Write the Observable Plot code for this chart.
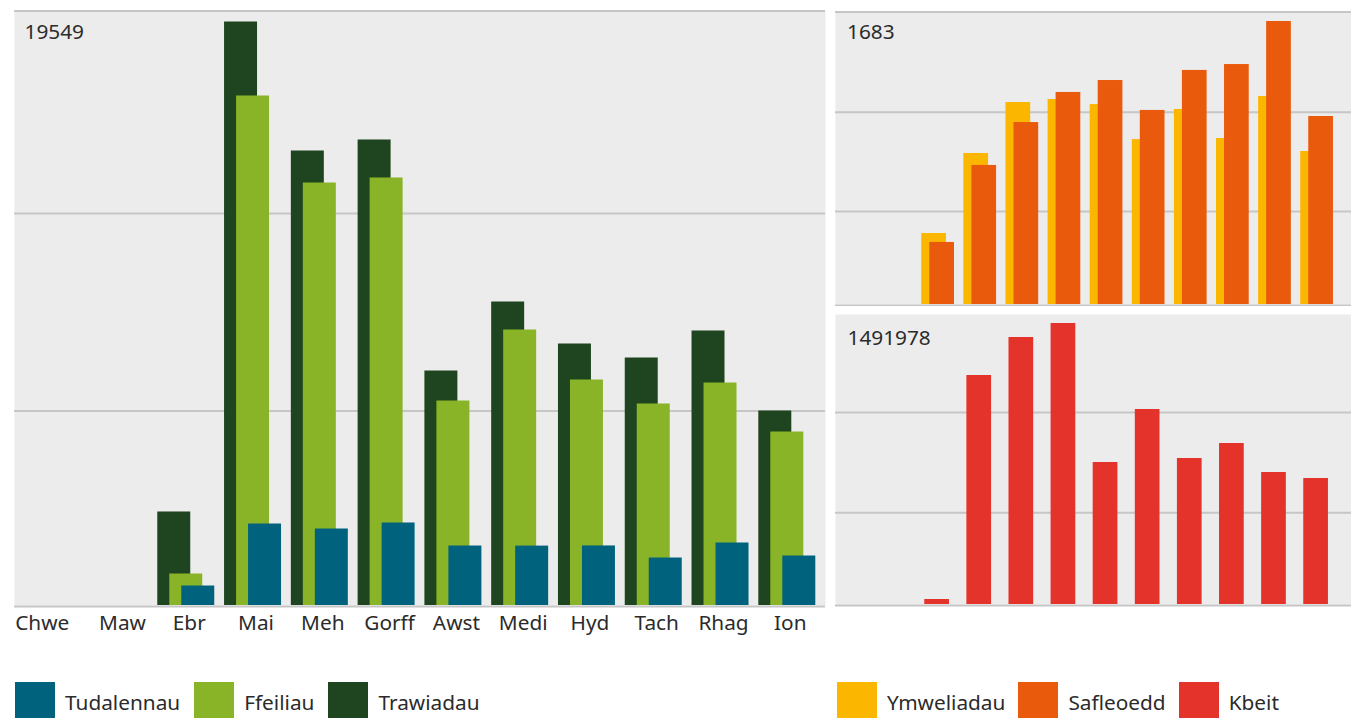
<!DOCTYPE html>
<html>
<head>
<meta charset="utf-8">
<script src="https://cdn.jsdelivr.net/npm/d3@7"></script>
<script src="https://cdn.jsdelivr.net/npm/@observablehq/plot@0.6"></script>
<style>
  html, body { margin: 0; padding: 0; background: #fff; overflow: hidden; }
  body { font-family: "Noto Sans", sans-serif; color: #333; }
  #wrap { position: relative; width: 1351px; height: 718px; }
  .panel { position: absolute; }
  .legend { position: absolute; top: 682px; display: flex; align-items: center; font-size: 20.8px; color: #2b2b2b; }
  .legend .item { display: flex; align-items: center; margin-right: 13px; }
  #legL .item { margin-right: 14px; }
  .legend .sw { width: 40px; height: 40px; margin-right: 10px; }
  .legend .lab { line-height: 40px; }
</style>
</head>
<body>
<div id="wrap">
  <div class="panel" id="left" style="left:0;top:0"></div>
  <div class="panel" id="rtop" style="left:830px;top:0"></div>
  <div class="panel" id="rbot" style="left:830px;top:306px"></div>
  <div class="legend" id="legL" style="left:15px"></div>
  <div class="legend" id="legR" style="left:837px"></div>
</div>
<script>
// ---- data ----
const months = ["Chwe","Maw","Ebr","Mai","Meh","Gorff","Awst","Medi","Hyd","Tach","Rhag","Ion"];
const tudalennau = [0, 0, 653, 2730, 2563, 2764, 1993, 1990, 1995, 1591, 2094, 1658];
const ffeiliau   = [0, 0, 1055, 17070, 14155, 14323, 6851, 9230, 7555, 6751, 7454, 5813];
const trawiadau  = [0, 0, 3133, 19549, 15227, 15596, 7856, 10168, 8761, 8292, 9197, 6516];
const ymweliadau = [0, 0, 422, 898, 1201, 1219, 1189, 981, 1160, 987, 1237, 910];
const safleoedd  = [0, 0, 369, 827, 1082, 1261, 1332, 1154, 1392, 1427, 1683, 1118];
const kbeit      = [0, 0, 26500, 1215876, 1417637, 1491978, 753949, 1035353, 775187, 854830, 700854, 668997];
const seriesLeft  = ["Tudalennau", "Ffeiliau", "Trawiadau"];
const seriesRight = ["Ymweliadau", "Safleoedd", "Kbeit"];

// ---- styles ----
const C = {
  Tudalennau: "#00627c", Ffeiliau: "#8ab428", Trawiadau: "#1e451f",
  Ymweliadau: "#fbb600", Safleoedd: "#ea5a0c", Kbeit: "#e4332a"
};
const BG = "#ececec", GRID = "#c6c6c6", TXT = "#2b2b2b", FS = 20.8;
const font = {fontFamily: "'Noto Sans', sans-serif", background: "transparent", color: TXT};

const rows = months.map((m, i) => ({
  month: m, tud: tudalennau[i], ffe: ffeiliau[i], traw: trawiadau[i],
  ymw: ymweliadau[i], saf: safleoedd[i], kb: kbeit[i]
}));

// ---- left chart ----
{
  const max = d3.max(trawiadau.concat(ffeiliau, tudalennau));
  const D = max * 1.0197;
  const p = Plot.plot({
    width: 830, height: 645, marginLeft: 14, marginRight: 5, marginTop: 10, marginBottom: 40,
    style: font,
    x: {type: "band", domain: months, paddingInner: 0, paddingOuter: 0.072, align: 0.5, round: false, axis: null},
    y: {domain: [0, D], axis: null},
    marks: [
      Plot.frame({fill: BG, stroke: "none"}),
      Plot.ruleY([D * 0.327, D * 0.659], {stroke: GRID, strokeWidth: 2}),
      Plot.ruleY([D], {stroke: GRID, strokeWidth: 2, dy: 0.5}),
      Plot.barY(rows, {x: "month", y: "traw", fill: C.Trawiadau, insetLeft: 4.9, insetRight: 28.9}),
      Plot.barY(rows, {x: "month", y: "ffe", fill: C.Ffeiliau, insetLeft: 16.9, insetRight: 16.9}),
      Plot.barY(rows, {x: "month", y: "tud", fill: C.Tudalennau, insetLeft: 28.9, insetRight: 4.9}),
      Plot.ruleY([0], {stroke: GRID, strokeWidth: 2, dy: 1}),
      Plot.text([String(max)], {text: d => d, frameAnchor: "top-left", lineAnchor: "top", dx: 10, dy: 13.5, fontSize: FS, fill: TXT}),
      Plot.text(months.slice(0, 1), {x: d => d, text: d => d, frameAnchor: "bottom", lineAnchor: "top", textAnchor: "start", dx: -37.5, dy: 10, fontSize: FS, fill: TXT}),
      Plot.text(months.slice(1), {x: d => d, text: d => d, frameAnchor: "bottom", lineAnchor: "top", dx: 3, dy: 10, fontSize: FS, fill: TXT})
    ]
  });
  document.getElementById("left").appendChild(p);
}

// ---- right top chart ----
const xRight = {type: "band", domain: months, paddingInner: 0.126, paddingOuter: 0.19, align: 0, round: false, axis: null};
{
  const max = d3.max(ymweliadau.concat(safleoedd));
  const D = max * 1.0353;
  const p = Plot.plot({
    width: 521, height: 306, marginLeft: 5, marginRight: 0, marginTop: 11, marginBottom: 2,
    style: font,
    x: xRight,
    y: {domain: [0, D], axis: null},
    marks: [
      Plot.frame({fill: BG, stroke: "none"}),
      Plot.ruleY([D * 0.317, D * 0.656], {stroke: GRID, strokeWidth: 2}),
      Plot.ruleY([D], {stroke: GRID, strokeWidth: 2, dy: 0.5}),
      Plot.barY(rows, {x: "month", y: "ymw", fill: C.Ymweliadau, insetLeft: 2.05, insetRight: 10.05}),
      Plot.barY(rows, {x: "month", y: "saf", fill: C.Safleoedd, insetLeft: 10.05, insetRight: 2.05}),
      Plot.ruleY([0], {stroke: GRID, strokeWidth: 2, dy: 1}),
      Plot.text([String(max)], {text: d => d, frameAnchor: "top-left", lineAnchor: "top", dx: 11.5, dy: 13, fontSize: FS, fill: TXT})
    ]
  });
  document.getElementById("rtop").appendChild(p);
}

// ---- right bottom chart ----
{
  const max = d3.max(kbeit);
  const D = max * 1.032;
  const p = Plot.plot({
    width: 521, height: 302, marginLeft: 5, marginRight: 0, marginTop: 8, marginBottom: 4,
    style: font,
    x: xRight,
    y: {domain: [0, D], axis: null},
    marks: [
      Plot.frame({fill: BG, stroke: "none"}),
      Plot.ruleY([D * 0.316, D * 0.662], {stroke: GRID, strokeWidth: 2}),
      Plot.barY(rows, {x: "month", y: "kb", fill: C.Kbeit, insetLeft: 5.05, insetRight: 7.05}),
      Plot.ruleY([0], {stroke: GRID, strokeWidth: 2, dy: 1}),
      Plot.text([String(max)], {text: d => d, frameAnchor: "top-left", lineAnchor: "top", dx: 12, dy: 15.3, fontSize: FS, fill: TXT})
    ]
  });
  document.getElementById("rbot").appendChild(p);
}

// ---- legends ----
function legend(id, names) {
  const el = document.getElementById(id);
  names.forEach(n => {
    const it = document.createElement("div"); it.className = "item";
    const sw = document.createElement("div"); sw.className = "sw"; sw.style.background = C[n];
    const lb = document.createElement("span"); lb.className = "lab"; lb.textContent = n;
    it.appendChild(sw); it.appendChild(lb); el.appendChild(it);
  });
}
legend("legL", seriesLeft);
legend("legR", seriesRight);
</script>
</body>
</html>
